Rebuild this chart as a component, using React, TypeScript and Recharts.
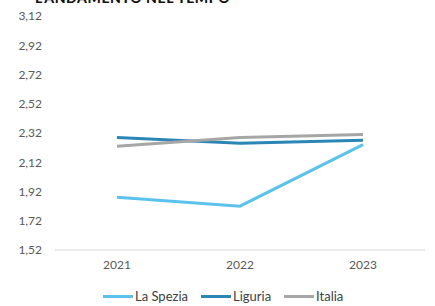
import React from 'react';
import { LineChart, Line, XAxis, YAxis, Legend } from 'recharts';

const years = ['2021', '2022', '2023'];
const laSpezia = [1.88, 1.82, 2.24];
const liguria = [2.29, 2.25, 2.27];
const italia = [2.23, 2.29, 2.31];
const yTicks = [1.52, 1.72, 1.92, 2.12, 2.32, 2.52, 2.72, 2.92, 3.12];

const seriesMeta = [
  { key: 'La Spezia', color: '#5BC2EE' },
  { key: 'Liguria', color: '#2B86B6' },
  { key: 'Italia', color: '#A6A6A6' },
];

const data = years.map((y, i) => ({
  year: y,
  'La Spezia': laSpezia[i],
  Liguria: liguria[i],
  Italia: italia[i],
}));

const FONT = 'Lato, "Open Sans", sans-serif';

const LegendContent = () => (
  <div style={{ display: 'flex', justifyContent: 'flex-start', alignItems: 'center', fontFamily: FONT, fontSize: 13, color: '#404040', height: 20, paddingLeft: 103 }}>
    {seriesMeta.map((s) => (
      <div key={s.key} style={{ display: 'flex', alignItems: 'center', marginRight: 13 }}>
        <div style={{ width: 30, height: 3, background: s.color, marginRight: 2 }} />
        <span>{s.key}</span>
      </div>
    ))}
  </div>
);

export default function App() {
  return (
    <div style={{ position: 'absolute', left: 0, top: 0, width: 435, height: 306, background: '#fff', overflow: 'hidden' }}>
      <LineChart width={435} height={306} data={data} margin={{ top: 16, right: 10, left: 0, bottom: 0 }}>
        <XAxis
          dataKey="year"
          height={36}
          padding={{ left: 62, right: 62 }}
          axisLine={{ stroke: '#D9D9D9' }}
          tickLine={false}
          tickSize={0}
          tickMargin={10}
          tick={{ fill: '#595959', fontSize: 12, fontFamily: FONT }}
        />
        <YAxis
          width={55}
          domain={[1.52, 3.12]}
          ticks={yTicks}
          interval={0}
          axisLine={false}
          tickLine={false}
          tickSize={0}
          tickMargin={13}
          tickFormatter={(v: number) => v.toFixed(2).replace('.', ',')}
          tick={{ fill: '#595959', fontSize: 12, fontFamily: FONT }}
        />
        <Legend verticalAlign="bottom" height={20} content={<LegendContent />} />
        {seriesMeta.map((s) => (
          <Line key={s.key} type="linear" dataKey={s.key} stroke={s.color} strokeWidth={3} dot={false} isAnimationActive={false} />
        ))}
      </LineChart>
      <div style={{ position: 'absolute', left: 35, top: -10, lineHeight: '16px', fontFamily: FONT, fontWeight: 900, fontSize: 14, color: '#111', letterSpacing: 0.6, whiteSpace: 'nowrap' }}>
        L'ANDAMENTO NEL TEMPO
      </div>
    </div>
  );
}
